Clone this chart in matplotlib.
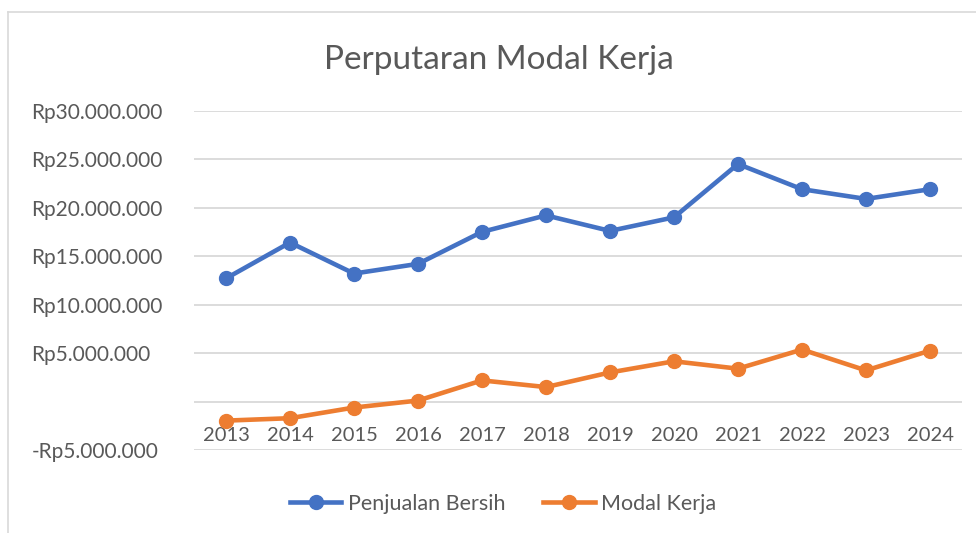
import matplotlib.pyplot as plt
from matplotlib.lines import Line2D

years = ["2013", "2014", "2015", "2016", "2017", "2018",
         "2019", "2020", "2021", "2022", "2023", "2024"]
penjualan_bersih = [12.7, 16.4, 13.2, 14.2, 17.5, 19.2,
                    17.6, 19.0, 24.5, 21.9, 20.9, 21.9]
modal_kerja = [-1.97, -1.72, -0.62, 0.1, 2.18, 1.49,
               3.0, 4.15, 3.39, 5.36, 3.21, 5.25]
yticks = [-5, 0, 5, 10, 15, 20, 25, 30]

blue = "#4472C4"
orange = "#ED7D31"
grey_txt = "#595959"

plt.rcParams['font.family'] = ['Lato', 'DejaVu Sans']

def rp(v):
    if v == 0:
        return ""
    s = f"{abs(v) * 1_000_000:,.0f}".replace(",", ".")
    return ("-Rp" if v < 0 else "Rp") + s

fig = plt.figure(figsize=(9.76, 5.33), dpi=100)
ax = fig.add_axes([194 / 976, 1 - 450 / 533, 768 / 976, (450 - 110.7) / 533])

x = range(len(years))
ax.plot(x, penjualan_bersih, color=blue, lw=3.3, marker='o', ms=10, label="Penjualan Bersih")
ax.plot(x, modal_kerja, color=orange, lw=3.3, marker='o', ms=10, label="Modal Kerja")

ax.set_xlim(-0.5, len(years) - 0.5)
ax.set_ylim(-5, 30)
ax.set_yticks(yticks)
ax.set_yticklabels([rp(v) for v in yticks], ha='left')
ax.tick_params(axis='y', length=0, pad=117, labelsize=15, labelcolor=grey_txt)
ax.grid(axis='y', color='#d9d9d9', lw=1.3)
ax.set_axisbelow(True)

ax.set_xticks(list(x))
ax.set_xticklabels(years)
ax.spines['bottom'].set_position(('data', 0))
for s in ax.spines.values():
    s.set_visible(False)
ax.tick_params(axis='x', length=0, pad=18, labelsize=14.5, labelcolor=grey_txt)

fig.text(499 / 976, 1 - 60 / 533, "Perputaran Modal Kerja", ha='center', va='center',
         fontsize=24, color=grey_txt)

handles = [Line2D([], [], color=blue, lw=3.3, marker='o', ms=10),
           Line2D([], [], color=orange, lw=3.3, marker='o', ms=10)]
fig.legend(handles, ["Penjualan Bersih", "Modal Kerja"], loc='center',
           bbox_to_anchor=(503 / 976, 1 - 504 / 533), ncol=2, frameon=False,
           fontsize=15.5, labelcolor=grey_txt, handlelength=2.4,
           handletextpad=0.3, columnspacing=1.75)

# chart border (left and top visible in the crop)
fig.add_artist(Line2D([8 / 976, 8 / 976], [0, 1 - 12 / 533], color='#d9d9d9',
                      lw=1.2, transform=fig.transFigure))
fig.add_artist(Line2D([8 / 976, 1], [1 - 12 / 533, 1 - 12 / 533], color='#d9d9d9',
                      lw=1.2, transform=fig.transFigure))

fig.savefig("out.png", dpi=100)
